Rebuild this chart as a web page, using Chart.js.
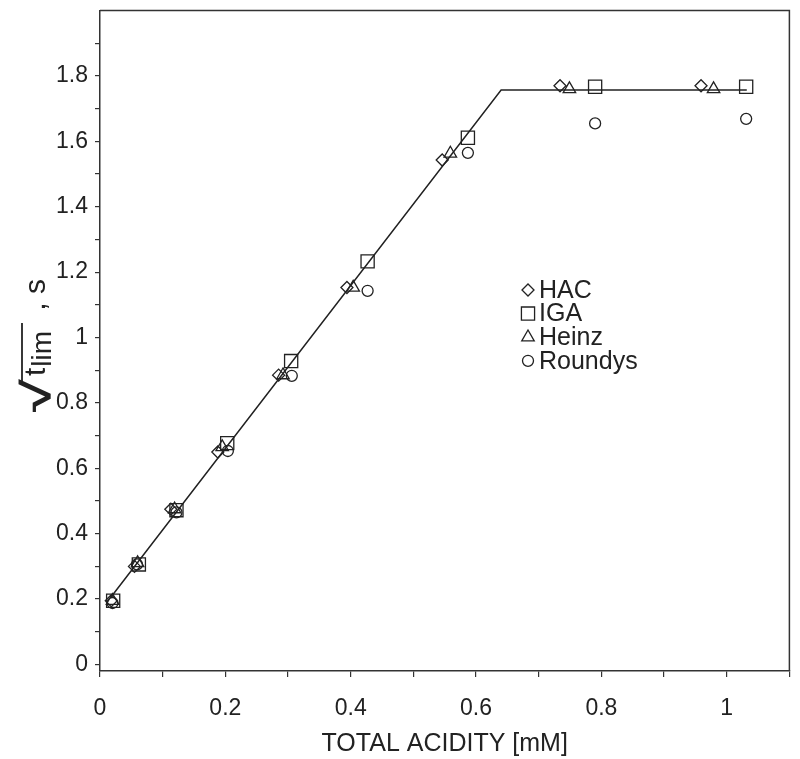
<!DOCTYPE html>
<html>
<head>
<meta charset="utf-8">
<script src="https://cdn.jsdelivr.net/npm/chart.js@4.4.1/dist/chart.umd.min.js"></script>
<style>
  html,body{margin:0;padding:0;background:#fff}
  #wrap{width:800px;height:759px}
</style>
</head>
<body>
<div id="wrap"><canvas id="c" width="800" height="759"></canvas></div>
<script>
/* ---------- data ---------- */
const hacX     = [0.018, 0.055, 0.113, 0.188, 0.285, 0.394, 0.546, 0.734, 0.959];
const hacY     = [0.195, 0.300, 0.475, 0.650, 0.885, 1.153, 1.543, 1.770, 1.770];
const igaX     = [0.021, 0.062, 0.122, 0.203, 0.305, 0.427, 0.587, 0.790, 1.031];
const igaY     = [0.195, 0.306, 0.472, 0.677, 0.928, 1.233, 1.611, 1.767, 1.767];
const heinzX   = [0.020, 0.060, 0.119, 0.195, 0.292, 0.404, 0.559, 0.749, 0.979];
const heinzY   = [0.195, 0.310, 0.475, 0.665, 0.885, 1.153, 1.563, 1.760, 1.760];
const roundysX = [0.020, 0.059, 0.122, 0.204, 0.306, 0.427, 0.587, 0.790, 1.031];
const roundysY = [0.188, 0.306, 0.465, 0.653, 0.883, 1.143, 1.565, 1.655, 1.669];

// fitted broken line
const fitX = [0.017, 0.640, 1.032];
const fitY = [0.205, 1.757, 1.757];

const xTicks = [0, 0.1, 0.2, 0.3, 0.4, 0.5, 0.6, 0.7, 0.8, 0.9, 1.0, 1.1];
const yTicks = [0, 0.1, 0.2, 0.3, 0.4, 0.5, 0.6, 0.7, 0.8, 0.9, 1.0, 1.1, 1.2, 1.3, 1.4, 1.5, 1.6, 1.7, 1.8, 1.9];

const xTitle = 'TOTAL ACIDITY [mM]';

/* ---------- helpers ---------- */
const INK  = '#222';
const FONT = '"Liberation Sans", Arial, sans-serif';
const pts  = (xs, ys) => xs.map((x, i) => ({x, y: ys[i]}));
const evenTenth = v => Math.round(v * 10) % 2 === 0;
const fmt = v => String(Math.round(v * 10) / 10);

const marker = {showLine:false, borderColor:INK, backgroundColor:'rgba(0,0,0,0)', borderWidth:1.3};

/* ---------- plugins ---------- */
const frame = {
  id:'frame',
  afterDatasetsDraw(chart){
    const {ctx, chartArea:a} = chart;
    ctx.save();
    ctx.strokeStyle = '#333'; ctx.lineWidth = 1.5;
    ctx.beginPath();
    ctx.moveTo(a.left, a.top); ctx.lineTo(a.right, a.top); ctx.lineTo(a.right, a.bottom);
    ctx.stroke();
    ctx.restore();
  }
};

const insetLegend = {
  id:'insetLegend',
  afterDraw(chart){
    const ctx = chart.ctx;
    ctx.save();
    ctx.font = `25px ${FONT}`;
    ctx.textBaseline = 'middle';
    ctx.fillStyle = INK; ctx.strokeStyle = INK;
    let k = 0;
    chart.data.datasets.forEach(ds => {
      if (ds.type === 'line') return;
      const y = 290 + k * 23.6;
      ctx.lineWidth = ds.borderWidth;
      ctx.fillStyle = 'rgba(0,0,0,0)';
      Chart.helpers.drawPoint(ctx, {pointStyle:ds.pointStyle, radius:ds.pointRadius, rotation:0, borderWidth:ds.borderWidth}, 528, y);
      ctx.fillStyle = INK;
      ctx.fillText(ds.label, 539, y + 1);
      k++;
    });
    ctx.restore();
  }
};

// y title: sqrt(t_lim), s  -- drawn rotated, x' runs up the page
const yTitle = {
  id:'yTitle',
  afterDraw(chart){
    const ctx = chart.ctx;
    ctx.save();
    ctx.translate(36, 412);
    ctx.rotate(-Math.PI / 2);
    ctx.fillStyle = INK; ctx.strokeStyle = INK;
    ctx.textBaseline = 'alphabetic';
    // radical, stretched along the text direction
    ctx.save();
    ctx.scale(1.5, 1);
    ctx.font = `bold 40px ${FONT}`;
    ctx.fillText('\u221A', 0, 14);
    const rw = ctx.measureText('\u221A').width * 1.5;
    ctx.restore();
    ctx.font = `30px ${FONT}`;
    ctx.fillText('t', rw + 3, 9);
    let x = rw + 3 + ctx.measureText('t').width + 1;
    ctx.font = `28px ${FONT}`;
    ctx.fillText('lim', x, 15);
    x += ctx.measureText('lim').width + 8;
    ctx.lineWidth = 1.8;
    ctx.beginPath();
    ctx.moveTo(rw - 6, -14); ctx.lineTo(x, -14);
    ctx.stroke();
    ctx.font = `30px ${FONT}`;
    ctx.fillText(' , s', x + 4, 9);
    ctx.restore();
  }
};

/* ---------- chart ---------- */
new Chart(document.getElementById('c'), {
  type:'scatter',
  data:{
    datasets:[
      {type:'line', label:'fit', data:pts(fitX, fitY), borderColor:INK, borderWidth:1.5,
       pointRadius:0, fill:false, tension:0},
      {label:'HAC',     data:pts(hacX, hacY),         pointStyle:'rectRot',  pointRadius:6,   ...marker},
      {label:'IGA',     data:pts(igaX, igaY),         pointStyle:'rect',     pointRadius:9.3, ...marker},
      {label:'Heinz',   data:pts(heinzX, heinzY),     pointStyle:'triangle', pointRadius:7.2, ...marker},
      {label:'Roundys', data:pts(roundysX, roundysY), pointStyle:'circle',   pointRadius:5.5, ...marker}
    ]
  },
  options:{
    responsive:false, animation:false, devicePixelRatio:1,
    layout:{padding:{top:10, right:9, left:0, bottom:0}},
    plugins:{legend:{display:false}, tooltip:{enabled:false}},
    scales:{
      x:{
        type:'linear', min:0, max:1.1,
        afterBuildTicks: s => { s.ticks = xTicks.map(v => ({value:v})); },
        afterFit: s => { s.height = 88; s.paddingLeft = 0; s.paddingRight = 0; },
        ticks:{callback: v => evenTenth(v) ? fmt(v) : '', autoSkip:false, maxRotation:0,
               color:INK, font:{family:FONT, size:23}, padding:18},
        grid:{drawOnChartArea:false, drawTicks:true, tickLength:6, color:'#333', lineWidth:1.2},
        border:{color:'#333', width:1.5},
        title:{display:true, text:xTitle, color:INK, font:{family:FONT, size:25}, padding:{top:0, bottom:0}}
      },
      y:{
        type:'linear', min:-0.02, max:2.0,
        afterBuildTicks: s => { s.ticks = yTicks.map(v => ({value:v})); },
        afterFit: s => { s.width = 100; s.paddingTop = 0; s.paddingBottom = 0; },
        ticks:{callback: v => evenTenth(v) ? fmt(v) : '', autoSkip:false,
               color:INK, font:{family:FONT, size:23}, padding:7},
        grid:{drawOnChartArea:false, drawTicks:true, tickLength:5, color:'#333', lineWidth:1.2},
        border:{color:'#333', width:1.5}
      }
    }
  },
  plugins:[frame, insetLegend, yTitle]
});
</script>
</body>
</html>
